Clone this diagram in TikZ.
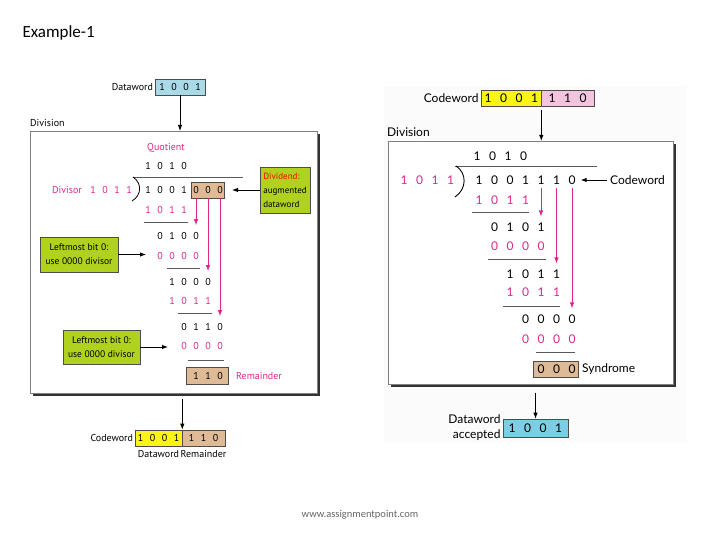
\documentclass[tikz,border=0pt]{standalone}
\usepackage{fontspec}
\setmainfont{Carlito}
\newfontfamily\leftfont{PT Sans}
\newfontfamily\rightfont{Lato}
\usetikzlibrary{arrows.meta, positioning, calc, shadows}
\definecolor{bitmagenta}{RGB}{220,40,140}
\definecolor{dwblue}{RGB}{170,218,232}
\definecolor{accblue}{RGB}{125,205,228}
\definecolor{cwyellow}{RGB}{250,245,20}
\definecolor{remtan}{RGB}{222,186,150}
\definecolor{cwpink}{RGB}{242,196,222}
\definecolor{limegreen}{RGB}{176,210,30}
\newcommand{\leftstyle}{\leftfont\fontsize{10bp}{14bp}\selectfont}
\newcommand{\rightstyle}{\rightfont\fontsize{12bp}{15bp}\selectfont}
% one row of bits: name, first x, y, step, style, bits
\newcommand{\bitrow}[6]{%
  \foreach \bitval [count=\i from 0] in {#6} {\node[#5] (#1-\i) at ({#2+\i*#4},#3) {\bitval};}}

\begin{document}
\begin{tikzpicture}[x=1bp, y=-1bp,
    lbit/.style={font=\leftstyle, inner sep=0pt},
    lmag/.style={lbit, text=bitmagenta},
    rbit/.style={font=\rightstyle, inner sep=0pt},
    rmag/.style={rbit, text=bitmagenta},
    bitbox/.style={draw=black!70, line width=0.6bp, inner sep=0pt},
    note/.style={bitbox, fill=limegreen, font=\leftfont\fontsize{9.5bp}{14bp}\selectfont, align=center},
    panel/.style={draw=black!50, line width=0.6bp, fill=white, anchor=north west,
        drop shadow={shadow xshift=3bp, shadow yshift=-3bp, fill=black!80, opacity=1}},
    rule/.style={line width=0.8bp, draw=black!65},
    arrow/.style={-{Latex[length=6bp, width=4.5bp]}, line width=0.9bp},
    marrow/.style={arrow, draw=bitmagenta}
]
\useasboundingbox (0,0) rectangle (720,540);
\fill[gray!3] (384,86) rectangle (687,443);

\node[anchor=west, font=\fontsize{17bp}{20bp}\selectfont] (title) at (19,33) {Example-1};
\node[font=\fontsize{10.5bp}{12bp}\selectfont, text=black!60] (site) at (360,515) {www.assignmentpoint.com};

% ---- sender side ----
\node[bitbox, fill=dwblue, minimum width=50bp, minimum height=16bp] (dwL) at (180,87) {};
\bitrow{dwLb}{162}{87}{12}{lbit}{1,0,0,1}
\node[lbit, anchor=east, inner sep=1.5bp] (dwLlab) at (dwL.west) {Dataword};
\node[lbit, anchor=west] (divLlab) at (30,123) {Division};
\node[panel, minimum width=287bp, minimum height=262bp] (divL) at (30,131) {};
\draw[arrow] (dwL.south) -- (dwL.south |- divL.north);

\node[lmag] (quoLlab) at (166,148) {Quotient};
\bitrow{quoL}{148}{166}{12}{lbit}{1,0,1,0}
\draw[rule] (133,177) -- (243,177);
\draw[line width=0.8bp] (133,177) .. controls (142,183) and (142,195) .. (132,201);
\node[lmag, anchor=east] (dsrLlab) at (82,190) {Divisor};
\bitrow{dsrL}{93}{190}{12}{lmag}{1,0,1,1}
\bitrow{dvdL}{148}{190}{12}{lbit}{1,0,0,1}
\node[bitbox, fill=remtan, minimum width=33bp, minimum height=16bp] (augL) at (208,190) {};
\bitrow{augLb}{196}{190}{12}{lbit}{0,0,0}
\node[note, minimum width=50bp, minimum height=46bp, align=left, inner sep=2bp,
      font=\leftfont\fontsize{9bp}{14bp}\selectfont] (dvd) at (285,190)
      {\textcolor{red}{Dividend:}\\augmented\\dataword};
\coordinate (dvdtip) at (232,190);
\draw[arrow] (dvd.west) -- (dvdtip);

\bitrow{rowLa}{148}{210}{12}{lmag}{1,0,1,1}
\draw[rule] (144,222) -- (188,222);
\bitrow{rowLb}{160}{236}{12}{lbit}{0,1,0,0}
\bitrow{rowLc}{160}{256}{12}{lmag}{0,0,0,0}
\draw[rule] (167,268) -- (200,268);
\bitrow{rowLd}{172}{282}{12}{lbit}{1,0,0,0}
\bitrow{rowLe}{172}{301}{12}{lmag}{1,0,1,1}
\draw[rule] (178,313) -- (212,313);
\bitrow{rowLf}{184}{327}{12}{lbit}{0,1,1,0}
\bitrow{rowLg}{184}{346}{12}{lmag}{0,0,0,0}
\draw[rule] (188,360) -- (224,360);
\node[bitbox, fill=remtan, minimum width=42bp, minimum height=17bp] (remL) at (207,375.5) {};
\bitrow{remLb}{196}{375.5}{12}{lbit}{1,1,0}
\node[lmag, anchor=west] (remLlab) at (236,376) {Remainder};

\draw[marrow, shorten >=7bp] (augLb-0 |- augL.south) -- (rowLb-3.north);
\draw[marrow, shorten >=7bp] (augLb-1 |- augL.south) -- (rowLd-3.north);
\draw[marrow, shorten >=7bp] (augLb-2 |- augL.south) -- (rowLf-3.north);

\node[note, minimum width=78bp, minimum height=35bp] (zeroLa) at (79,254.5) {Leftmost bit 0:\\use 0000 divisor};
\coordinate (zeroLatip) at (146,254.5);
\draw[arrow] (zeroLa.east) -- (zeroLatip);
\node[note, minimum width=77bp, minimum height=34bp] (zeroLb) at (101.5,347) {Leftmost bit 0:\\use 0000 divisor};
\coordinate (zeroLbtip) at (168,347);
\draw[arrow] (zeroLb.east) -- (zeroLbtip);

\node[bitbox, fill=cwyellow, minimum width=47bp, minimum height=16bp] (cwLy) at (158.5,438) {};
\node[bitbox, fill=remtan, minimum width=43bp, minimum height=16bp] (cwLt) at (203.5,438) {};
\bitrow{cwLyb}{140.5}{438}{12}{lbit}{1,0,0,1}
\bitrow{cwLtb}{191.5}{438}{12}{lbit}{1,1,0}
\node[lbit, anchor=east, inner sep=1.5bp] (cwLlab) at (cwLy.west) {Codeword};
\node[lbit, below=4bp of cwLy] (cwLdw) {Dataword};
\node[lbit, below=4bp of cwLt] (cwLrem) {Remainder};
\draw[arrow, shorten <=5bp] (cwLy.north east |- divL.south) -- (cwLy.north east);

% ---- receiver side ----
\node[bitbox, fill=cwyellow, minimum width=60bp, minimum height=16bp] (cwRy) at (511,98) {};
\node[bitbox, fill=cwpink, minimum width=53bp, minimum height=16bp] (cwRp) at (567.5,98) {};
\bitrow{cwRyb}{488}{98}{15.5}{rbit}{1,0,0,1}
\bitrow{cwRpb}{552}{98}{15.5}{rbit}{1,1,0}
\node[rbit, anchor=east, inner sep=2bp] (cwRlab) at (cwRy.west) {Codeword};
\node[rbit, anchor=west] (divRlab) at (387,132) {Division};
\node[panel, minimum width=285bp, minimum height=243bp] (divR) at (388,141) {};
\draw[arrow, shorten <=4bp] (cwRy.south east) -- (cwRy.south east |- divR.north);

\bitrow{quoR}{477}{156}{15.5}{rbit}{1,0,1,0}
\draw[rule] (455,166) -- (597,166);
\draw[line width=0.9bp] (456,166) .. controls (467,173) and (467,189) .. (455,197);
\bitrow{dsrR}{404}{180}{15.5}{rmag}{1,0,1,1}
\bitrow{dvdR}{479}{180}{15.5}{rbit}{1,0,0,1,1,1,0}
\node[rbit, anchor=west] (cwRlab2) at (610,180) {Codeword};
\draw[arrow, shorten <=3bp, shorten >=5bp] (cwRlab2.west) -- (dvdR-6.east);

\bitrow{rowRa}{479}{200}{15.5}{rmag}{1,0,1,1}
\draw[rule] (472,212) -- (529,212);
\bitrow{rowRb}{494.5}{227}{15.5}{rbit}{0,1,0,1}
\bitrow{rowRc}{494.5}{246}{15.5}{rmag}{0,0,0,0}
\draw[rule] (488,259) -- (546,259);
\bitrow{rowRd}{510}{274}{15.5}{rbit}{1,0,1,1}
\bitrow{rowRe}{510}{292}{15.5}{rmag}{1,0,1,1}
\draw[rule] (503,306) -- (560,306);
\bitrow{rowRf}{525.5}{319}{15.5}{rbit}{0,0,0,0}
\bitrow{rowRg}{525.5}{339}{15.5}{rmag}{0,0,0,0}
\draw[rule] (536,352) -- (575,352);
\node[bitbox, fill=remtan, minimum width=45bp, minimum height=16bp] (synR) at (556,369.5) {};
\bitrow{synRb}{541}{369.5}{15.5}{rbit}{0,0,0}
\node[rbit, anchor=west] (synRlab) at (582,369) {Syndrome};

\draw[marrow, shorten <=3bp, shorten >=6bp] (dvdR-4.south) -- (rowRb-3.north);
\draw[marrow, shorten <=3bp, shorten >=6bp] (dvdR-5.south) -- (rowRd-3.north);
\draw[marrow, shorten <=3bp, shorten >=6bp] (dvdR-6.south) -- (rowRf-3.north);

\node[bitbox, fill=accblue, minimum width=65bp, minimum height=18bp] (accR) at (535.5,428) {};
\bitrow{accRb}{512}{428}{15.5}{rbit}{1,0,0,1}
\node[rbit, anchor=east, align=right, inner sep=2bp] (accRlab) at (accR.west) {Dataword\\accepted};
\draw[arrow, shorten <=8bp] (accR.north |- divR.south) -- (accR.north);
\end{tikzpicture}
\end{document}
